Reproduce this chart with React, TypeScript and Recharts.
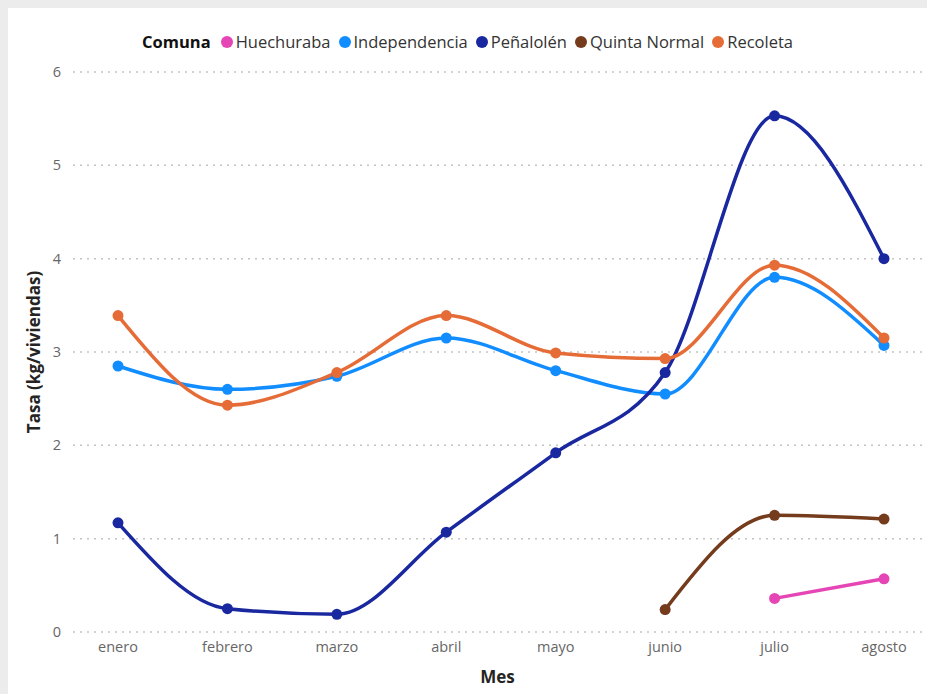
import React from 'react';
import { LineChart, Line, XAxis, YAxis, CartesianGrid, Legend } from 'recharts';

const months = ['enero', 'febrero', 'marzo', 'abril', 'mayo', 'junio', 'julio', 'agosto'];

const huechuraba = [null, null, null, null, null, null, 0.36, 0.57];
const independencia = [2.85, 2.6, 2.74, 3.15, 2.8, 2.55, 3.8, 3.07];
const penalolen = [1.17, 0.25, 0.19, 1.07, 1.92, 2.78, 5.53, 4.0];
const quintaNormal = [null, null, null, null, null, 0.24, 1.25, 1.21];
const recoleta = [3.39, 2.43, 2.78, 3.39, 2.99, 2.93, 3.93, 3.15];

const yTicks = [0, 1, 2, 3, 4, 5, 6];

const series = [
  { key: 'Huechuraba', values: huechuraba, color: '#E645B5' },
  { key: 'Independencia', values: independencia, color: '#118DFF' },
  { key: 'Peñalolén', values: penalolen, color: '#1A28A0' },
  { key: 'Quinta Normal', values: quintaNormal, color: '#743B1C' },
  { key: 'Recoleta', values: recoleta, color: '#E66C37' },
];

const data = months.map((m, i) => {
  const row: Record<string, string | number | null> = { month: m };
  series.forEach((s) => {
    row[s.key] = s.values[i];
  });
  return row;
});

const FONT = '"Open Sans", "Noto Sans", sans-serif';

const renderLegend = () => (
  <div
    style={{
      display: 'flex',
      justifyContent: 'center',
      alignItems: 'center',
      fontFamily: FONT,
      fontSize: 16.5,
      color: '#333',
      paddingLeft: 8,
    }}
  >
    <span style={{ fontWeight: 700, color: '#111', marginRight: 10 }}>Comuna</span>
    {series.map((s) => (
      <span key={s.key} style={{ display: 'inline-flex', alignItems: 'center', marginRight: 8 }}>
        <span
          style={{
            display: 'inline-block',
            width: 12,
            height: 12,
            borderRadius: '50%',
            background: s.color,
            marginRight: 3,
          }}
        />
        {s.key}
      </span>
    ))}
  </div>
);

export default function App() {
  return (
    <div style={{ position: 'fixed', left: 0, top: 0, width: 927, height: 694, background: '#ececec' }}>
      <div style={{ position: 'absolute', left: 8, top: 8, width: 919, height: 686, background: '#fff' }}>
        <LineChart width={919} height={686} data={data} margin={{ top: 64, right: 5, bottom: 0, left: 0 }}>
          <CartesianGrid vertical={false} stroke="#c4c4c4" strokeDasharray="2 5" strokeWidth={1.5} />
          <XAxis
            dataKey="month"
            axisLine={false}
            tickLine={false}
            tickSize={0}
            tickMargin={10}
            padding={{ left: 45, right: 38 }}
            height={62}
            tick={{ fill: '#666', fontSize: 14.5, fontFamily: FONT }}
            label={{
              value: 'Mes',
              position: 'insideBottom',
              offset: 11,
              style: { fill: '#252423', fontSize: 17, fontWeight: 700, fontFamily: FONT },
            }}
          />
          <YAxis
            domain={[0, 6]}
            ticks={yTicks}
            width={65}
            axisLine={false}
            tickLine={false}
            tickSize={0}
            tickMargin={12}
            tick={{ fill: '#666', fontSize: 14.5, fontFamily: FONT }}
            label={{
              value: 'Tasa (kg/viviendas)',
              angle: -90,
              position: 'center',
              dx: -7,
              style: { fill: '#252423', fontSize: 17, fontWeight: 700, fontFamily: FONT, textAnchor: 'middle' },
            }}
          />
          <Legend
            layout="horizontal"
            verticalAlign="middle"
            align="center"
            content={renderLegend}
            wrapperStyle={{ top: 22, left: 0, width: 919 }}
          />
          {series.map((s) => (
            <Line
              key={s.key}
              type="monotone"
              dataKey={s.key}
              stroke={s.color}
              strokeWidth={3.5}
              dot={{ r: 5.5, fill: s.color, stroke: s.color, strokeWidth: 0 }}
              activeDot={false}
              isAnimationActive={false}
            />
          ))}
        </LineChart>
      </div>
    </div>
  );
}
